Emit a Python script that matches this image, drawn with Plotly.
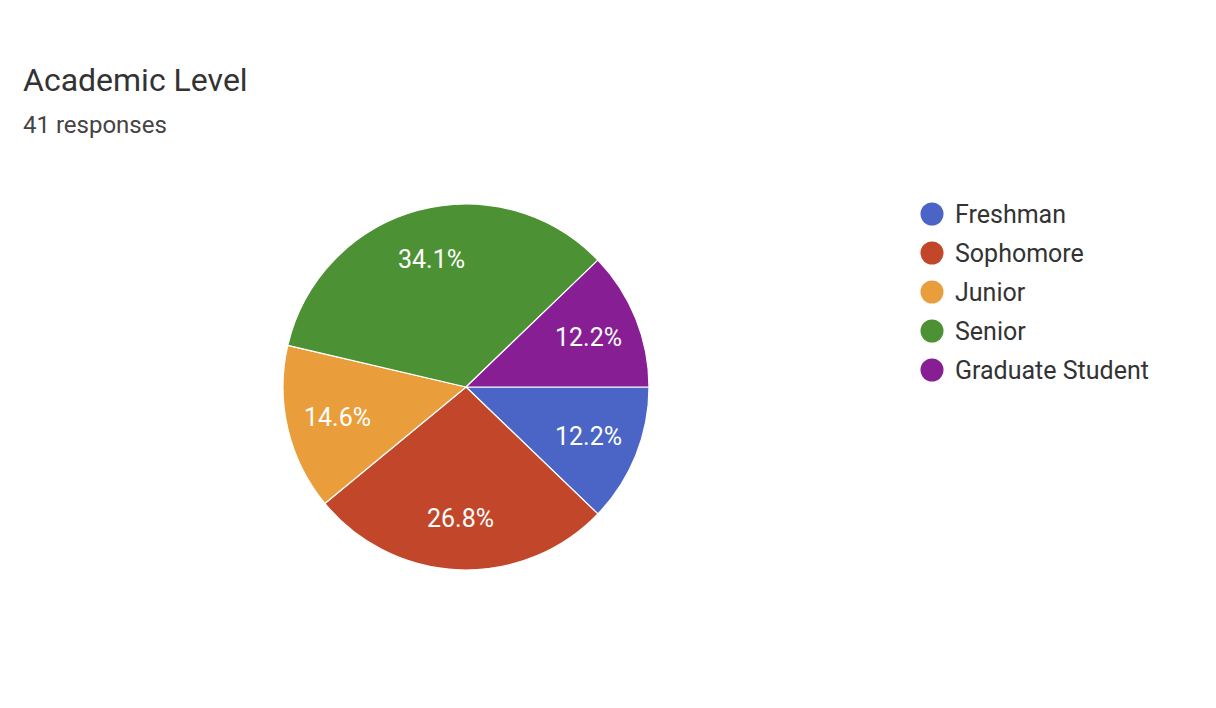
import math
import plotly.graph_objects as go

categories = ["Freshman", "Sophomore", "Junior", "Senior", "Graduate Student"]
counts = [5, 11, 6, 14, 5]
colors = ["#4b65c6", "#c2472a", "#e99d3b", "#4c9234", "#881e93"]
title_text = "Academic Level"
subtitle_text = "41 responses"

W, H = 1216, 708
OFF = 8  # page offset of the rendered figure
FONT = "Roboto, Arial, sans-serif"

def px(x):
    return (x - OFF) / W

def py(y):
    return 1 - (y - OFF) / H

# pie geometry (pixels)
cx, cy, R = 466, 387, 183

fig = go.Figure()
fig.add_trace(go.Pie(
    labels=categories,
    values=counts,
    marker=dict(colors=colors, line=dict(color="white", width=1.2)),
    sort=False,
    direction="clockwise",
    rotation=90,
    textinfo="none",
    showlegend=False,
    hoverinfo="label+percent",
    domain=dict(x=[px(cx - R), px(cx + R)], y=[py(cy + R), py(cy - R)]),
))

annotations = []
shapes = []

# percentage labels placed along each slice's mid-angle
total = sum(counts)
start = 0.0
for cat, v in zip(categories, counts):
    frac = v / total
    mid = (start + frac / 2) * 2 * math.pi  # clockwise from 3 o'clock
    start += frac
    r = 0.72 * R
    lx = cx + r * math.cos(mid)
    ly = cy + r * math.sin(mid)
    annotations.append(dict(
        text=f"{frac * 100:.1f}%", xref="paper", yref="paper", x=px(lx), y=py(ly),
        xanchor="center", yanchor="middle", showarrow=False,
        font=dict(family=FONT, size=25, color="white"),
    ))

# custom legend with circle markers
leg_x_circle, leg_x_text = 932, 953
leg_y0, leg_dy, circ_r = 214, 39, 11.5
for i, (cat, col) in enumerate(zip(categories, colors)):
    y = leg_y0 + i * leg_dy
    shapes.append(dict(
        type="circle", xref="paper", yref="paper",
        x0=px(leg_x_circle - circ_r), x1=px(leg_x_circle + circ_r),
        y0=py(y + circ_r), y1=py(y - circ_r),
        fillcolor=col, line=dict(width=0),
    ))
    annotations.append(dict(
        text=cat, xref="paper", yref="paper", x=px(leg_x_text), y=py(y),
        xanchor="left", yanchor="middle", showarrow=False,
        font=dict(family=FONT, size=25, color="#333333"),
    ))

annotations.append(dict(
    text=title_text, xref="paper", yref="paper", x=px(21), y=py(80),
    xanchor="left", yanchor="middle", showarrow=False,
    font=dict(family=FONT, size=32, color="#333333"),
))
annotations.append(dict(
    text=subtitle_text, xref="paper", yref="paper", x=px(21), y=py(125),
    xanchor="left", yanchor="middle", showarrow=False,
    font=dict(family=FONT, size=24, color="#444444"),
))

fig.update_layout(
    width=W, height=H,
    margin=dict(l=0, r=0, t=0, b=0),
    paper_bgcolor="white", plot_bgcolor="white",
    shapes=shapes, annotations=annotations,
)

fig.write_html("out.html")
